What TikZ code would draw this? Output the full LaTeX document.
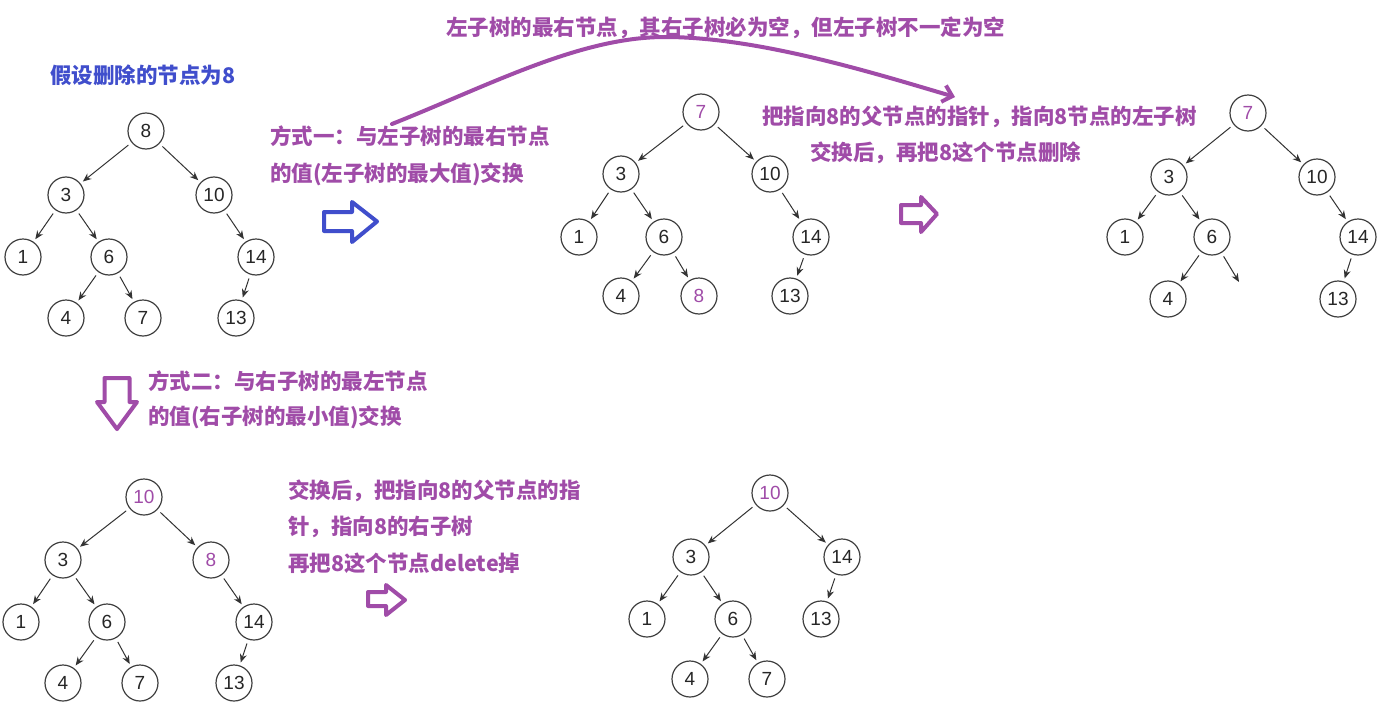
\documentclass[tikz,border=0pt]{standalone}
\usepackage{fontspec}
\setmainfont{Liberation Sans}
\newfontfamily\cjk{Noto Sans CJK SC}
\usetikzlibrary{arrows.meta}
\definecolor{pur}{RGB}{160,76,168}
\definecolor{blu}{RGB}{64,78,204}
\begin{document}
\begin{tikzpicture}[x=1pt,y=-1pt,
  tn/.style={circle, draw=black!75, line width=1.2pt, minimum size=36pt, inner sep=0pt, font=\fontsize{19}{19}\selectfont, text=black!85},
  pn/.style={tn, text=pur},
  ed/.style={-{Stealth[length=8.5pt,width=7pt]}, line width=1pt, draw=black!80, shorten <=4pt, shorten >=3pt},
  txt/.style={anchor=west, inner sep=0pt, font=\cjk\bfseries\fontsize{21.5}{24}\selectfont, text=pur},
  blk/.style={line width=4pt, line join=round}
]
\useasboundingbox[fill=white] (0,0) rectangle (1380,717);

% ---------- texts ----------
\node[txt, text=blu] (t0) at (50,75) {假设删除的节点为8};
\node[txt] (t1) at (270,136) {方式一：与左子树的最右节点};
\node[txt] (t2) at (270,174) {的值(左子树的最大值)交换};
\node[txt] (t3) at (446,28) {左子树的最右节点，其右子树必为空，但左子树不一定为空};
\node[txt] (t4) at (762,117) {把指向8的父节点的指针，指向8节点的左子树};
\node[txt] (t5) at (810,153) {交换后，再把8这个节点删除};
\node[txt] (t6) at (148,381) {方式二：与右子树的最左节点};
\node[txt] (t7) at (148,417) {的值(右子树的最小值)交换};
\node[txt] (t8) at (288,491) {交换后，把指向8的父节点的指};
\node[txt] (t9) at (288,527) {针，指向8的右子树};
\node[txt] (t10) at (288,563) {再把8这个节点delete掉};

% ---------- tree 1 ----------
\node[tn] (a8) at (146,131) {8};
\node[tn] (a3) at (66,195) {3};
\node[tn] (a10) at (214,195) {10};
\node[tn] (a1) at (23,257) {1};
\node[tn] (a6) at (109,257) {6};
\node[tn] (a14) at (256,257) {14};
\node[tn] (a4) at (66,318) {4};
\node[tn] (a7) at (143,318) {7};
\node[tn] (a13) at (236,318) {13};
\foreach \p/\c in {a8/a3,a8/a10,a3/a1,a3/a6,a6/a4,a6/a7,a10/a14,a14/a13}
  \draw[ed] (\p) -- (\c);

% ---------- tree 2 ----------
\node[pn] (b7) at (701,112) {7};
\node[tn] (b3) at (621,174) {3};
\node[tn] (b10) at (770,174) {10};
\node[tn] (b1) at (579,237) {1};
\node[tn] (b6) at (664,237) {6};
\node[tn] (b14) at (811,237) {14};
\node[tn] (b4) at (621,296) {4};
\node[pn] (b8) at (699,296) {8};
\node[tn] (b13) at (790,296) {13};
\foreach \p/\c in {b7/b3,b7/b10,b3/b1,b3/b6,b6/b4,b6/b8,b10/b14,b14/b13}
  \draw[ed] (\p) -- (\c);

% ---------- tree 3 ----------
\node[pn] (c7) at (1248,113) {7};
\node[tn] (c3) at (1169,177) {3};
\node[tn] (c10) at (1317,177) {10};
\node[tn] (c1) at (1125,237) {1};
\node[tn] (c6) at (1212,237) {6};
\node[tn] (c14) at (1358,237) {14};
\node[tn] (c4) at (1168,299) {4};
\node[tn] (c13) at (1338,299) {13};
\coordinate (cx) at (1239,282);
\foreach \p/\c in {c7/c3,c7/c10,c3/c1,c3/c6,c6/c4,c10/c14,c14/c13}
  \draw[ed] (\p) -- (\c);
\draw[ed, shorten >=0pt] (c6) -- (cx);

% ---------- tree 4 ----------
\node[pn] (d10) at (144,497) {10};
\node[tn] (d3) at (63,560) {3};
\node[pn] (d8) at (211,560) {8};
\node[tn] (d1) at (21,622) {1};
\node[tn] (d6) at (107,622) {6};
\node[tn] (d14) at (254,622) {14};
\node[tn] (d4) at (63,683) {4};
\node[tn] (d7) at (140,683) {7};
\node[tn] (d13) at (234,683) {13};
\foreach \p/\c in {d10/d3,d10/d8,d3/d1,d3/d6,d6/d4,d6/d7,d8/d14,d14/d13}
  \draw[ed] (\p) -- (\c);

% ---------- tree 5 ----------
\node[pn] (e10) at (770,493) {10};
\node[tn] (e3) at (691,557) {3};
\node[tn] (e14) at (842,557) {14};
\node[tn] (e1) at (647,619) {1};
\node[tn] (e6) at (733,619) {6};
\node[tn] (e13) at (821,619) {13};
\node[tn] (e4) at (690,679) {4};
\node[tn] (e7) at (767,679) {7};
\foreach \p/\c in {e10/e3,e10/e14,e3/e1,e3/e6,e6/e4,e6/e7,e14/e13}
  \draw[ed] (\p) -- (\c);

% ---------- block arrows ----------
\draw[blk, blu] (324,212) -- (352,212) -- (352,202) -- (377,221.5) -- (352,242) -- (352,231) -- (324,231) -- cycle;
\draw[blk, pur] (901,205) -- (921,205) -- (921,197) -- (937,214) -- (921,232) -- (921,223) -- (901,223) -- cycle;
\draw[blk, pur] (104.5,378) -- (129.5,378) -- (129.5,402) -- (137,402) -- (117,429) -- (97,402) -- (104.5,402) -- cycle;
\draw[blk, pur] (368,592) -- (386,592) -- (386,585) -- (405,600) -- (386,615) -- (386,606) -- (368,606) -- cycle;

% ---------- curved arrow ----------
\coordinate (cs) at (392,124);
\coordinate (ce) at (955,97);
\draw[pur, line width=4pt, line cap=round, -{Straight Barb[length=9pt,width=17pt]}]
  (cs) .. controls (490,85) and (580,37) .. (665,37)
       .. controls (760,37) and (880,75) .. (ce);
\end{tikzpicture}
\end{document}
